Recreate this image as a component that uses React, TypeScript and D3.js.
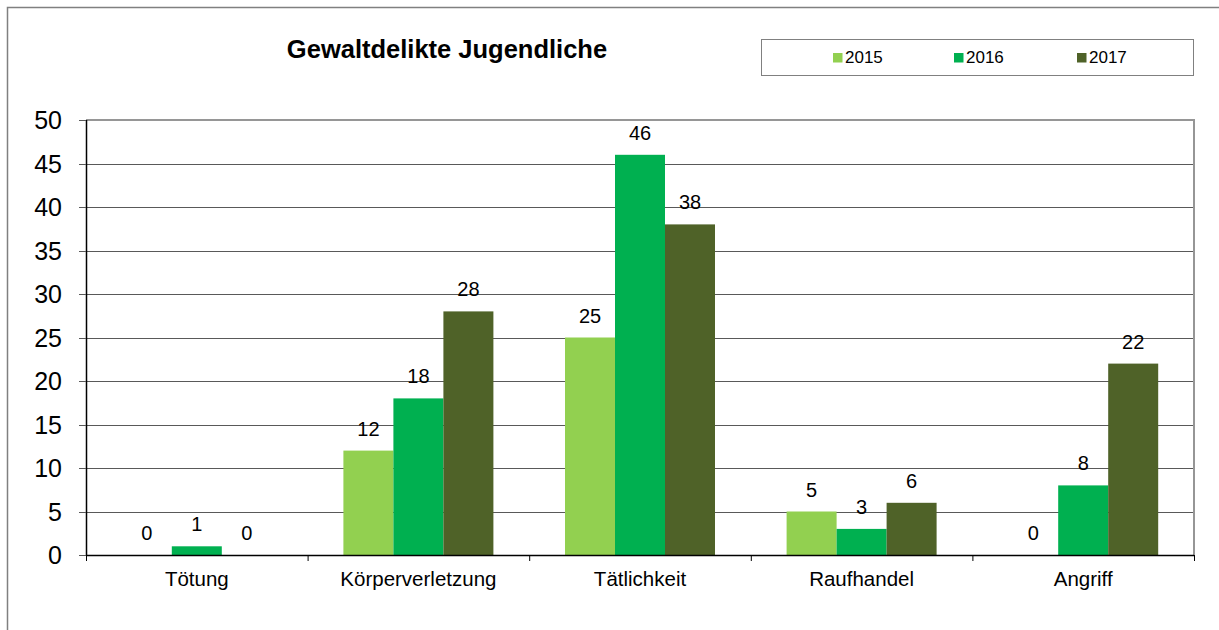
import React from "react";
import * as d3 from "d3";

const categories = ["Tötung", "Körperverletzung", "Tätlichkeit", "Raufhandel", "Angriff"];
const seriesNames = ["2015", "2016", "2017"];
const values2015 = [0, 12, 25, 5, 0];
const values2016 = [1, 18, 46, 3, 8];
const values2017 = [0, 28, 38, 6, 22];
const seriesColors = ["#92D050", "#00B050", "#4F6228"];
const yTicks = [0, 5, 10, 15, 20, 25, 30, 35, 40, 45, 50];
const title = "Gewaltdelikte Jugendliche";

const seriesValues = [values2015, values2016, values2017];

export default function App() {
  const W = 1219, H = 630;
  const left = 86, right = 1194, top = 120, bottom = 555;
  const font = "'Liberation Sans', Arial, sans-serif";

  const x0 = d3.scaleBand<string>().domain(categories).range([left, right]).padding(0);
  const x1 = d3.scaleBand<string>().domain(seriesNames).range([0, x0.bandwidth()]).paddingInner(0).paddingOuter(0.716);
  const y = d3.scaleLinear().domain([0, 50]).range([bottom, top]);

  const boundaries = [...categories.map((c) => x0(c) as number), right];
  const legendX = [833, 954, 1077];

  return (
    <svg width={W} height={H} style={{ position: "absolute", left: 0, top: 0, background: "#fff" }} fontFamily={font}>
      <rect x={0} y={0} width={W} height={H} fill="#fff" />
      {/* outer frame */}
      <path d={`M7.5,${H} V7.5 H${W}`} fill="none" stroke="#808080" strokeWidth={1.5} />
      {/* title */}
      <text x={447} y={58} textAnchor="middle" fontSize={25.5} fontWeight="bold" fill="#000">{title}</text>
      {/* legend */}
      <rect x={761.5} y={39.5} width={432} height={36} fill="#fff" stroke="#808080" strokeWidth={1} />
      {seriesNames.map((s, i) => (
        <g key={s}>
          <rect x={legendX[i]} y={53} width={9.5} height={9.5} fill={seriesColors[i]} />
          <text x={legendX[i] + 12} y={63} fontSize={17} fill="#000">{s}</text>
        </g>
      ))}
      {/* gridlines */}
      {yTicks.filter((t) => t > 0 && t < 50).map((t) => (
        <line key={t} x1={left} x2={right} y1={Math.round(y(t)) + 0.5} y2={Math.round(y(t)) + 0.5} stroke="#595959" strokeWidth={1} />
      ))}
      {/* plot border top/right */}
      <path d={`M${left},${top} H${right} V${bottom}`} fill="none" stroke="#969696" strokeWidth={2} />
      {/* bars */}
      {seriesNames.map((s, si) =>
        categories.map((c, ci) => {
          const v = seriesValues[si][ci];
          const bx = (x0(c) as number) + (x1(s) as number);
          return (
            <rect key={s + c} x={bx} y={y(v)} width={x1.bandwidth()} height={bottom - y(v)} fill={seriesColors[si]} />
          );
        })
      )}
      {/* value labels */}
      {seriesNames.map((s, si) =>
        categories.map((c, ci) => {
          const v = seriesValues[si][ci];
          const cx = (x0(c) as number) + (x1(s) as number) + x1.bandwidth() / 2;
          return (
            <text key={"l" + s + c} x={cx} y={y(v) - 15} textAnchor="middle" fontSize={20} fill="#000">{v}</text>
          );
        })
      )}
      {/* y axis */}
      <line x1={left + 0.5} x2={left + 0.5} y1={top} y2={bottom} stroke="#000" strokeWidth={1.5} />
      {yTicks.map((t) => (
        <g key={"yt" + t}>
          <line x1={79} x2={left} y1={Math.round(y(t)) + 0.5} y2={Math.round(y(t)) + 0.5} stroke="#595959" strokeWidth={1} />
          <text x={62} y={y(t) + 9} textAnchor="end" fontSize={25} fill="#000">{t}</text>
        </g>
      ))}
      {/* x axis */}
      <line x1={left} x2={right} y1={bottom + 0.5} y2={bottom + 0.5} stroke="#000" strokeWidth={1.5} />
      {boundaries.map((b, i) => (
        <line key={"xt" + i} x1={b + 0.5} x2={b + 0.5} y1={bottom} y2={bottom + 6} stroke="#000" strokeWidth={1} />
      ))}
      {categories.map((c) => (
        <text key={"xl" + c} x={(x0(c) as number) + x0.bandwidth() / 2} y={586} textAnchor="middle" fontSize={20.5} fill="#000">{c}</text>
      ))}
    </svg>
  );
}
